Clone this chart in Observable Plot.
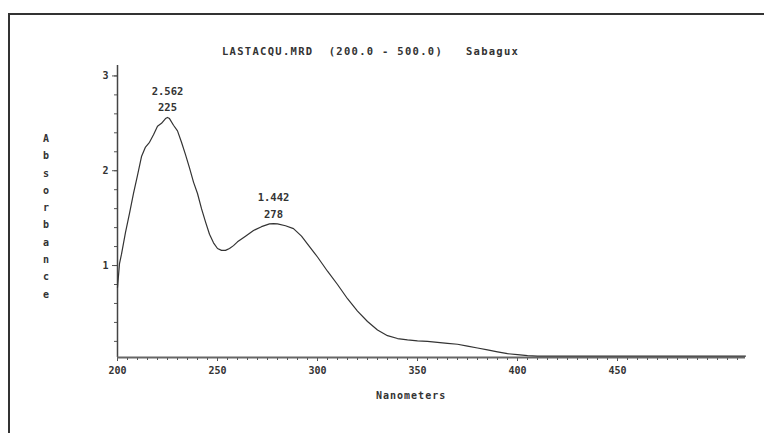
<!DOCTYPE html>
<html>
<head>
<meta charset="utf-8">
<script src="https://cdn.jsdelivr.net/npm/d3@7"></script>
<script src="https://cdn.jsdelivr.net/npm/@observablehq/plot@0.6"></script>
<style>
  html, body { margin: 0; padding: 0; background: #fff; }
  #wrap { position: relative; width: 764px; height: 433px; overflow: hidden; }
  #frame { position: absolute; left: 8px; top: 13px; width: 800px; height: 500px;
           border-top: 2px solid #333; border-left: 2px solid #333; }
  .lbl { position: absolute; font-family: "DejaVu Sans Mono", monospace; font-weight: bold;
         color: #333; font-size: 10px; white-space: pre; }
  #title { left: 222px; top: 45px; letter-spacing: 1.3px; font-size: 10.5px; }
  #xlab { left: 376px; top: 390px; letter-spacing: 1px; }
  #ylab { left: 41px; top: 130px; line-height: 17.3px; width: 10px; text-align: center; }
  svg { position: absolute; left: 0; top: 0; }
</style>
</head>
<body>
<div id="wrap">
  <div id="frame"></div>
</div>
<script>
// Spectrum
const wavelength = [200,201,202,204,206,208,210,212,214,216,218,220,222,224,225,226,228,230,232,234,236,238,240,242,244,246,248,250,252,254,256,258,260,264,268,272,276,278,280,284,288,292,296,300,305,310,315,320,325,330,335,340,345,350,355,360,365,370,375,380,385,390,395,400,405,410,420,430,440,450,460,470,480,490,500,510,514];
const absorbance = [0.77,1.02,1.12,1.35,1.55,1.76,1.95,2.15,2.25,2.30,2.38,2.47,2.50,2.55,2.562,2.55,2.48,2.42,2.30,2.17,2.03,1.88,1.76,1.60,1.46,1.33,1.24,1.18,1.16,1.16,1.18,1.21,1.25,1.31,1.37,1.41,1.44,1.442,1.44,1.42,1.39,1.31,1.20,1.09,0.94,0.80,0.65,0.52,0.41,0.32,0.26,0.23,0.215,0.205,0.20,0.19,0.18,0.17,0.15,0.13,0.11,0.09,0.07,0.06,0.05,0.045,0.045,0.045,0.045,0.045,0.045,0.045,0.045,0.045,0.045,0.045,0.045];
const peakWavelength = [225, 278];
const peakAbsorbance = [2.562, 1.442];
const xTickLabels = [200, 250, 300, 350, 400, 450];
const yTickLabels = [1, 2, 3];
const titleText = "LASTACQU.MRD  (200.0 - 500.0)   Sabagux";
const xLabelText = "Nanometers";
const yLabelText = "Absorbance";

const spectrum = wavelength.map((w, i) => ({w, a: absorbance[i]}));
const peaks = peakWavelength.map((w, i) => ({w, a: peakAbsorbance[i]}));

const font = "DejaVu Sans Mono, monospace";
const chart = Plot.plot({
  width: 764,
  height: 433,
  marginLeft: 117,
  marginRight: 19,
  marginTop: 65,
  marginBottom: 76,
  style: {fontFamily: font, fontSize: "10px", fontWeight: "bold", color: "#333", background: "transparent", overflow: "visible"},
  x: {domain: [200, 514], label: null},
  y: {domain: [0.03, 3.11], label: null},
  marks: [
    Plot.axisX({ticks: d3.range(200, 515, 5), tickSize: 3, tickFormat: () => "", stroke: "#555", label: null}),
    Plot.axisX({ticks: xTickLabels, tickSize: 4, tickPadding: 5, tickFormat: d3.format("d"), stroke: "#555", fill: "#333", label: null}),
    Plot.axisY({ticks: d3.range(0.2, 3.11, 0.2), tickSize: 3, tickFormat: () => "", stroke: "#555", label: null}),
    Plot.axisY({ticks: yTickLabels, tickSize: 5, tickPadding: 4, tickFormat: d3.format("d"), stroke: "#555", fill: "#333", label: null}),
    Plot.ruleX([200], {stroke: "#444", strokeWidth: 1.5}),
    Plot.ruleY([0.03], {stroke: "#666", strokeWidth: 2}),
    Plot.line(spectrum, {x: "w", y: "a", stroke: "#333", strokeWidth: 1.2}),
    Plot.text(peaks, {x: "w", y: "a", text: d => d.a.toFixed(3) + "\n" + d.w, lineAnchor: "bottom", dy: -6, lineHeight: 1.6, fill: "#333", fontSize: 10.5})
  ]
});
const wrap = document.getElementById("wrap");
wrap.appendChild(chart);

function addLabel(id, text) {
  const d = document.createElement("div");
  d.className = "lbl";
  d.id = id;
  d.textContent = text;
  wrap.appendChild(d);
}
addLabel("title", titleText);
addLabel("xlab", xLabelText);
addLabel("ylab", yLabelText.split("").join("\n"));
</script>
</body>
</html>
